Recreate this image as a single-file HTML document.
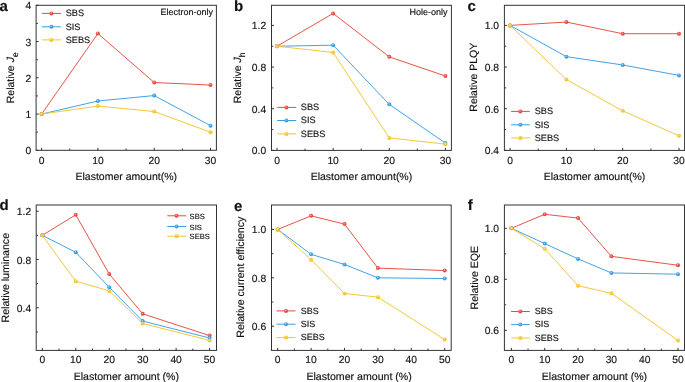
<!DOCTYPE html>
<html><head><meta charset="utf-8"><style>
html,body{margin:0;padding:0;background:#fff;}
body{width:685px;height:382px;overflow:hidden;}
svg{display:block;will-change:transform;text-rendering:geometricPrecision;font-family:"Liberation Sans", sans-serif;}
text{fill:#111;stroke:#111;stroke-width:0.15px;}
</style></head><body>
<svg width="685" height="382" viewBox="0 0 685 382">
<polyline points="41.6,114.05 97.9,33.58 154.2,82.51 210.5,85.05" fill="none" stroke="#e8493f" stroke-width="0.95" stroke-linejoin="round"/>
<polyline points="41.6,114.05 97.9,101 154.2,95.56 210.5,125.65" fill="none" stroke="#3a9ee0" stroke-width="0.95" stroke-linejoin="round"/>
<polyline points="41.6,114.05 97.9,106.08 154.2,111.51 210.5,132.18" fill="none" stroke="#f4c42c" stroke-width="0.95" stroke-linejoin="round"/>
<circle cx="41.6" cy="114.05" r="2.0" fill="#e8493f"/>
<circle cx="41.25" cy="113.6" r="0.75" fill="#fff" fill-opacity="0.6"/>
<circle cx="97.9" cy="33.58" r="2.0" fill="#e8493f"/>
<circle cx="97.55" cy="33.12" r="0.75" fill="#fff" fill-opacity="0.6"/>
<circle cx="154.2" cy="82.51" r="2.0" fill="#e8493f"/>
<circle cx="153.85" cy="82.06" r="0.75" fill="#fff" fill-opacity="0.6"/>
<circle cx="210.5" cy="85.05" r="2.0" fill="#e8493f"/>
<circle cx="210.15" cy="84.6" r="0.75" fill="#fff" fill-opacity="0.6"/>
<circle cx="41.6" cy="114.05" r="2.0" fill="#3a9ee0"/>
<circle cx="41.25" cy="113.6" r="0.75" fill="#fff" fill-opacity="0.6"/>
<circle cx="97.9" cy="101" r="2.0" fill="#3a9ee0"/>
<circle cx="97.55" cy="100.55" r="0.75" fill="#fff" fill-opacity="0.6"/>
<circle cx="154.2" cy="95.56" r="2.0" fill="#3a9ee0"/>
<circle cx="153.85" cy="95.11" r="0.75" fill="#fff" fill-opacity="0.6"/>
<circle cx="210.5" cy="125.65" r="2.0" fill="#3a9ee0"/>
<circle cx="210.15" cy="125.2" r="0.75" fill="#fff" fill-opacity="0.6"/>
<circle cx="41.6" cy="114.05" r="2.0" fill="#f4c42c"/>
<circle cx="41.25" cy="113.6" r="0.75" fill="#fff" fill-opacity="0.6"/>
<circle cx="97.9" cy="106.08" r="2.0" fill="#f4c42c"/>
<circle cx="97.55" cy="105.63" r="0.75" fill="#fff" fill-opacity="0.6"/>
<circle cx="154.2" cy="111.51" r="2.0" fill="#f4c42c"/>
<circle cx="153.85" cy="111.06" r="0.75" fill="#fff" fill-opacity="0.6"/>
<circle cx="210.5" cy="132.18" r="2.0" fill="#f4c42c"/>
<circle cx="210.15" cy="131.73" r="0.75" fill="#fff" fill-opacity="0.6"/>
<rect x="36.1" y="5.3" width="180.3" height="145" fill="none" stroke="#333333" stroke-width="1"/>
<line x1="41.6" y1="150.3" x2="41.6" y2="147.8" stroke="#333333" stroke-width="1"/>
<line x1="97.9" y1="150.3" x2="97.9" y2="147.8" stroke="#333333" stroke-width="1"/>
<line x1="154.2" y1="150.3" x2="154.2" y2="147.8" stroke="#333333" stroke-width="1"/>
<line x1="210.5" y1="150.3" x2="210.5" y2="147.8" stroke="#333333" stroke-width="1"/>
<line x1="69.75" y1="150.3" x2="69.75" y2="148.5" stroke="#333333" stroke-width="1"/>
<line x1="126.05" y1="150.3" x2="126.05" y2="148.5" stroke="#333333" stroke-width="1"/>
<line x1="182.35" y1="150.3" x2="182.35" y2="148.5" stroke="#333333" stroke-width="1"/>
<line x1="36.1" y1="150.3" x2="38.6" y2="150.3" stroke="#333333" stroke-width="1"/>
<line x1="36.1" y1="114.05" x2="38.6" y2="114.05" stroke="#333333" stroke-width="1"/>
<line x1="36.1" y1="77.8" x2="38.6" y2="77.8" stroke="#333333" stroke-width="1"/>
<line x1="36.1" y1="41.55" x2="38.6" y2="41.55" stroke="#333333" stroke-width="1"/>
<line x1="36.1" y1="5.3" x2="38.6" y2="5.3" stroke="#333333" stroke-width="1"/>
<line x1="36.1" y1="132.18" x2="37.9" y2="132.18" stroke="#333333" stroke-width="1"/>
<line x1="36.1" y1="95.93" x2="37.9" y2="95.93" stroke="#333333" stroke-width="1"/>
<line x1="36.1" y1="59.68" x2="37.9" y2="59.68" stroke="#333333" stroke-width="1"/>
<line x1="36.1" y1="23.43" x2="37.9" y2="23.43" stroke="#333333" stroke-width="1"/>
<text x="41.6" y="163.5" text-anchor="middle" font-size="10.3">0</text>
<text x="97.9" y="163.5" text-anchor="middle" font-size="10.3">10</text>
<text x="154.2" y="163.5" text-anchor="middle" font-size="10.3">20</text>
<text x="210.5" y="163.5" text-anchor="middle" font-size="10.3">30</text>
<text x="31.2" y="154.36" text-anchor="end" font-size="10.3">0</text>
<text x="31.2" y="118.11" text-anchor="end" font-size="10.3">1</text>
<text x="31.2" y="81.86" text-anchor="end" font-size="10.3">2</text>
<text x="31.2" y="45.61" text-anchor="end" font-size="10.3">3</text>
<text x="31.2" y="9.36" text-anchor="end" font-size="10.3">4</text>
<text x="126.25" y="180.1" text-anchor="middle" font-size="10.5">Elastomer amount(%)</text>
<text transform="translate(14.1,77.8) rotate(-90)" text-anchor="middle" font-size="10.5">Relative <tspan font-style="italic">J</tspan><tspan font-size="8.5" dy="3.4">e</tspan></text>
<line x1="41.9" y1="13.4" x2="60.9" y2="13.4" stroke="#e8493f" stroke-width="1"/>
<circle cx="51.4" cy="13.4" r="2.0" fill="#e8493f"/>
<circle cx="51.05" cy="12.95" r="0.75" fill="#fff" fill-opacity="0.6"/>
<text x="65.7" y="16.17" font-size="9.2">SBS</text>
<line x1="41.9" y1="26.8" x2="60.9" y2="26.8" stroke="#3a9ee0" stroke-width="1"/>
<circle cx="51.4" cy="26.8" r="2.0" fill="#3a9ee0"/>
<circle cx="51.05" cy="26.35" r="0.75" fill="#fff" fill-opacity="0.6"/>
<text x="65.7" y="29.57" font-size="9.2">SIS</text>
<line x1="41.9" y1="39.9" x2="60.9" y2="39.9" stroke="#f4c42c" stroke-width="1"/>
<circle cx="51.4" cy="39.9" r="2.0" fill="#f4c42c"/>
<circle cx="51.05" cy="39.45" r="0.75" fill="#fff" fill-opacity="0.6"/>
<text x="65.7" y="42.67" font-size="9.2">SEBS</text>
<text x="-0.6" y="10.6" font-size="15" font-weight="bold">a</text>
<text x="213" y="15.2" text-anchor="end" font-size="9">Electron-only</text>
<polyline points="277,46.23 333.13,13.42 389.27,56.86 445.4,76.03" fill="none" stroke="#e8493f" stroke-width="0.95" stroke-linejoin="round"/>
<polyline points="277,46.23 333.13,45.19 389.27,104.36 445.4,143.11" fill="none" stroke="#3a9ee0" stroke-width="0.95" stroke-linejoin="round"/>
<polyline points="277,46.23 333.13,52.48 389.27,137.9 445.4,144.15" fill="none" stroke="#f4c42c" stroke-width="0.95" stroke-linejoin="round"/>
<circle cx="277" cy="46.23" r="2.0" fill="#e8493f"/>
<circle cx="276.65" cy="45.78" r="0.75" fill="#fff" fill-opacity="0.6"/>
<circle cx="333.13" cy="13.42" r="2.0" fill="#e8493f"/>
<circle cx="332.78" cy="12.97" r="0.75" fill="#fff" fill-opacity="0.6"/>
<circle cx="389.27" cy="56.86" r="2.0" fill="#e8493f"/>
<circle cx="388.92" cy="56.41" r="0.75" fill="#fff" fill-opacity="0.6"/>
<circle cx="445.4" cy="76.03" r="2.0" fill="#e8493f"/>
<circle cx="445.05" cy="75.58" r="0.75" fill="#fff" fill-opacity="0.6"/>
<circle cx="277" cy="46.23" r="2.0" fill="#3a9ee0"/>
<circle cx="276.65" cy="45.78" r="0.75" fill="#fff" fill-opacity="0.6"/>
<circle cx="333.13" cy="45.19" r="2.0" fill="#3a9ee0"/>
<circle cx="332.78" cy="44.74" r="0.75" fill="#fff" fill-opacity="0.6"/>
<circle cx="389.27" cy="104.36" r="2.0" fill="#3a9ee0"/>
<circle cx="388.92" cy="103.91" r="0.75" fill="#fff" fill-opacity="0.6"/>
<circle cx="445.4" cy="143.11" r="2.0" fill="#3a9ee0"/>
<circle cx="445.05" cy="142.66" r="0.75" fill="#fff" fill-opacity="0.6"/>
<circle cx="277" cy="46.23" r="2.0" fill="#f4c42c"/>
<circle cx="276.65" cy="45.78" r="0.75" fill="#fff" fill-opacity="0.6"/>
<circle cx="333.13" cy="52.48" r="2.0" fill="#f4c42c"/>
<circle cx="332.78" cy="52.03" r="0.75" fill="#fff" fill-opacity="0.6"/>
<circle cx="389.27" cy="137.9" r="2.0" fill="#f4c42c"/>
<circle cx="388.92" cy="137.45" r="0.75" fill="#fff" fill-opacity="0.6"/>
<circle cx="445.4" cy="144.15" r="2.0" fill="#f4c42c"/>
<circle cx="445.05" cy="143.7" r="0.75" fill="#fff" fill-opacity="0.6"/>
<rect x="271.5" y="5.3" width="179.9" height="145.1" fill="none" stroke="#333333" stroke-width="1"/>
<line x1="277" y1="150.4" x2="277" y2="147.9" stroke="#333333" stroke-width="1"/>
<line x1="333.13" y1="150.4" x2="333.13" y2="147.9" stroke="#333333" stroke-width="1"/>
<line x1="389.27" y1="150.4" x2="389.27" y2="147.9" stroke="#333333" stroke-width="1"/>
<line x1="445.4" y1="150.4" x2="445.4" y2="147.9" stroke="#333333" stroke-width="1"/>
<line x1="305.07" y1="150.4" x2="305.07" y2="148.6" stroke="#333333" stroke-width="1"/>
<line x1="361.2" y1="150.4" x2="361.2" y2="148.6" stroke="#333333" stroke-width="1"/>
<line x1="417.33" y1="150.4" x2="417.33" y2="148.6" stroke="#333333" stroke-width="1"/>
<line x1="271.5" y1="150.4" x2="274" y2="150.4" stroke="#333333" stroke-width="1"/>
<line x1="271.5" y1="108.73" x2="274" y2="108.73" stroke="#333333" stroke-width="1"/>
<line x1="271.5" y1="67.07" x2="274" y2="67.07" stroke="#333333" stroke-width="1"/>
<line x1="271.5" y1="25.4" x2="274" y2="25.4" stroke="#333333" stroke-width="1"/>
<line x1="271.5" y1="129.57" x2="273.3" y2="129.57" stroke="#333333" stroke-width="1"/>
<line x1="271.5" y1="87.9" x2="273.3" y2="87.9" stroke="#333333" stroke-width="1"/>
<line x1="271.5" y1="46.23" x2="273.3" y2="46.23" stroke="#333333" stroke-width="1"/>
<text x="277" y="163.5" text-anchor="middle" font-size="10.3">0</text>
<text x="333.13" y="163.5" text-anchor="middle" font-size="10.3">10</text>
<text x="389.27" y="163.5" text-anchor="middle" font-size="10.3">20</text>
<text x="445.4" y="163.5" text-anchor="middle" font-size="10.3">30</text>
<text x="266.2" y="154.46" text-anchor="end" font-size="10.3">0.0</text>
<text x="266.2" y="112.79" text-anchor="end" font-size="10.3">0.4</text>
<text x="266.2" y="71.12" text-anchor="end" font-size="10.3">0.8</text>
<text x="266.2" y="29.46" text-anchor="end" font-size="10.3">1.2</text>
<text x="361.45" y="180.1" text-anchor="middle" font-size="10.5">Elastomer amount(%)</text>
<text transform="translate(241.3,77.85) rotate(-90)" text-anchor="middle" font-size="10.5">Relative <tspan font-style="italic">J</tspan><tspan font-size="8.5" dy="3.4">h</tspan></text>
<line x1="277.2" y1="107.4" x2="296.2" y2="107.4" stroke="#e8493f" stroke-width="1"/>
<circle cx="286.4" cy="107.4" r="2.0" fill="#e8493f"/>
<circle cx="286.05" cy="106.95" r="0.75" fill="#fff" fill-opacity="0.6"/>
<text x="300.8" y="110.17" font-size="9.2">SBS</text>
<line x1="277.2" y1="120.5" x2="296.2" y2="120.5" stroke="#3a9ee0" stroke-width="1"/>
<circle cx="286.4" cy="120.5" r="2.0" fill="#3a9ee0"/>
<circle cx="286.05" cy="120.05" r="0.75" fill="#fff" fill-opacity="0.6"/>
<text x="300.8" y="123.27" font-size="9.2">SIS</text>
<line x1="277.2" y1="133.9" x2="296.2" y2="133.9" stroke="#f4c42c" stroke-width="1"/>
<circle cx="286.4" cy="133.9" r="2.0" fill="#f4c42c"/>
<circle cx="286.05" cy="133.45" r="0.75" fill="#fff" fill-opacity="0.6"/>
<text x="300.8" y="136.67" font-size="9.2">SEBS</text>
<text x="234" y="10.8" font-size="15" font-weight="bold">b</text>
<text x="447.6" y="14.7" text-anchor="end" font-size="9">Hole-only</text>
<polyline points="510.1,25.4 566.4,22.07 622.7,33.73 679,33.73" fill="none" stroke="#e8493f" stroke-width="0.95" stroke-linejoin="round"/>
<polyline points="510.1,25.4 566.4,56.65 622.7,64.98 679,75.4" fill="none" stroke="#3a9ee0" stroke-width="0.95" stroke-linejoin="round"/>
<polyline points="510.1,25.4 566.4,79.57 622.7,110.82 679,135.82" fill="none" stroke="#f4c42c" stroke-width="0.95" stroke-linejoin="round"/>
<circle cx="510.1" cy="25.4" r="2.0" fill="#e8493f"/>
<circle cx="509.75" cy="24.95" r="0.75" fill="#fff" fill-opacity="0.6"/>
<circle cx="566.4" cy="22.07" r="2.0" fill="#e8493f"/>
<circle cx="566.05" cy="21.62" r="0.75" fill="#fff" fill-opacity="0.6"/>
<circle cx="622.7" cy="33.73" r="2.0" fill="#e8493f"/>
<circle cx="622.35" cy="33.28" r="0.75" fill="#fff" fill-opacity="0.6"/>
<circle cx="679" cy="33.73" r="2.0" fill="#e8493f"/>
<circle cx="678.65" cy="33.28" r="0.75" fill="#fff" fill-opacity="0.6"/>
<circle cx="510.1" cy="25.4" r="2.0" fill="#3a9ee0"/>
<circle cx="509.75" cy="24.95" r="0.75" fill="#fff" fill-opacity="0.6"/>
<circle cx="566.4" cy="56.65" r="2.0" fill="#3a9ee0"/>
<circle cx="566.05" cy="56.2" r="0.75" fill="#fff" fill-opacity="0.6"/>
<circle cx="622.7" cy="64.98" r="2.0" fill="#3a9ee0"/>
<circle cx="622.35" cy="64.53" r="0.75" fill="#fff" fill-opacity="0.6"/>
<circle cx="679" cy="75.4" r="2.0" fill="#3a9ee0"/>
<circle cx="678.65" cy="74.95" r="0.75" fill="#fff" fill-opacity="0.6"/>
<circle cx="510.1" cy="25.4" r="2.0" fill="#f4c42c"/>
<circle cx="509.75" cy="24.95" r="0.75" fill="#fff" fill-opacity="0.6"/>
<circle cx="566.4" cy="79.57" r="2.0" fill="#f4c42c"/>
<circle cx="566.05" cy="79.12" r="0.75" fill="#fff" fill-opacity="0.6"/>
<circle cx="622.7" cy="110.82" r="2.0" fill="#f4c42c"/>
<circle cx="622.35" cy="110.37" r="0.75" fill="#fff" fill-opacity="0.6"/>
<circle cx="679" cy="135.82" r="2.0" fill="#f4c42c"/>
<circle cx="678.65" cy="135.37" r="0.75" fill="#fff" fill-opacity="0.6"/>
<rect x="504.4" y="5.3" width="180.2" height="145.1" fill="none" stroke="#333333" stroke-width="1"/>
<line x1="510.1" y1="150.4" x2="510.1" y2="147.9" stroke="#333333" stroke-width="1"/>
<line x1="566.4" y1="150.4" x2="566.4" y2="147.9" stroke="#333333" stroke-width="1"/>
<line x1="622.7" y1="150.4" x2="622.7" y2="147.9" stroke="#333333" stroke-width="1"/>
<line x1="679" y1="150.4" x2="679" y2="147.9" stroke="#333333" stroke-width="1"/>
<line x1="538.25" y1="150.4" x2="538.25" y2="148.6" stroke="#333333" stroke-width="1"/>
<line x1="594.55" y1="150.4" x2="594.55" y2="148.6" stroke="#333333" stroke-width="1"/>
<line x1="650.85" y1="150.4" x2="650.85" y2="148.6" stroke="#333333" stroke-width="1"/>
<line x1="504.4" y1="150.4" x2="506.9" y2="150.4" stroke="#333333" stroke-width="1"/>
<line x1="504.4" y1="108.73" x2="506.9" y2="108.73" stroke="#333333" stroke-width="1"/>
<line x1="504.4" y1="67.07" x2="506.9" y2="67.07" stroke="#333333" stroke-width="1"/>
<line x1="504.4" y1="25.4" x2="506.9" y2="25.4" stroke="#333333" stroke-width="1"/>
<line x1="504.4" y1="129.57" x2="506.2" y2="129.57" stroke="#333333" stroke-width="1"/>
<line x1="504.4" y1="87.9" x2="506.2" y2="87.9" stroke="#333333" stroke-width="1"/>
<line x1="504.4" y1="46.23" x2="506.2" y2="46.23" stroke="#333333" stroke-width="1"/>
<text x="510.1" y="163.5" text-anchor="middle" font-size="10.3">0</text>
<text x="566.4" y="163.5" text-anchor="middle" font-size="10.3">10</text>
<text x="622.7" y="163.5" text-anchor="middle" font-size="10.3">20</text>
<text x="679" y="163.5" text-anchor="middle" font-size="10.3">30</text>
<text x="499" y="154.46" text-anchor="end" font-size="10.3">0.4</text>
<text x="499" y="112.79" text-anchor="end" font-size="10.3">0.6</text>
<text x="499" y="71.12" text-anchor="end" font-size="10.3">0.8</text>
<text x="499" y="29.46" text-anchor="end" font-size="10.3">1.0</text>
<text x="594.5" y="180.1" text-anchor="middle" font-size="10.5">Elastomer amount(%)</text>
<text transform="translate(477,77.2) rotate(-90)" text-anchor="middle" font-size="10.5">Relative PLQY</text>
<line x1="511.1" y1="111.4" x2="529.8" y2="111.4" stroke="#e8493f" stroke-width="1"/>
<circle cx="520.3" cy="111.4" r="2.0" fill="#e8493f"/>
<circle cx="519.95" cy="110.95" r="0.75" fill="#fff" fill-opacity="0.6"/>
<text x="534.7" y="114.17" font-size="9.2">SBS</text>
<line x1="511.1" y1="124.8" x2="529.8" y2="124.8" stroke="#3a9ee0" stroke-width="1"/>
<circle cx="520.3" cy="124.8" r="2.0" fill="#3a9ee0"/>
<circle cx="519.95" cy="124.35" r="0.75" fill="#fff" fill-opacity="0.6"/>
<text x="534.7" y="127.57" font-size="9.2">SIS</text>
<line x1="511.1" y1="137.9" x2="529.8" y2="137.9" stroke="#f4c42c" stroke-width="1"/>
<circle cx="520.3" cy="137.9" r="2.0" fill="#f4c42c"/>
<circle cx="519.95" cy="137.45" r="0.75" fill="#fff" fill-opacity="0.6"/>
<text x="534.7" y="140.67" font-size="9.2">SEBS</text>
<text x="467.6" y="10.8" font-size="15" font-weight="bold">c</text>
<polyline points="42.3,235.35 75.76,214.82 109.22,273.99 142.68,313.84 209.6,335.57" fill="none" stroke="#e8493f" stroke-width="0.95" stroke-linejoin="round"/>
<polyline points="42.3,235.35 75.76,252.25 109.22,287.27 142.68,321.08 209.6,337.99" fill="none" stroke="#3a9ee0" stroke-width="0.95" stroke-linejoin="round"/>
<polyline points="42.3,235.35 75.76,281.24 109.22,290.89 142.68,323.5 209.6,340.4" fill="none" stroke="#f4c42c" stroke-width="0.95" stroke-linejoin="round"/>
<circle cx="42.3" cy="235.35" r="2.0" fill="#e8493f"/>
<circle cx="41.95" cy="234.9" r="0.75" fill="#fff" fill-opacity="0.6"/>
<circle cx="75.76" cy="214.82" r="2.0" fill="#e8493f"/>
<circle cx="75.41" cy="214.37" r="0.75" fill="#fff" fill-opacity="0.6"/>
<circle cx="109.22" cy="273.99" r="2.0" fill="#e8493f"/>
<circle cx="108.87" cy="273.54" r="0.75" fill="#fff" fill-opacity="0.6"/>
<circle cx="142.68" cy="313.84" r="2.0" fill="#e8493f"/>
<circle cx="142.33" cy="313.39" r="0.75" fill="#fff" fill-opacity="0.6"/>
<circle cx="209.6" cy="335.57" r="2.0" fill="#e8493f"/>
<circle cx="209.25" cy="335.12" r="0.75" fill="#fff" fill-opacity="0.6"/>
<circle cx="42.3" cy="235.35" r="2.0" fill="#3a9ee0"/>
<circle cx="41.95" cy="234.9" r="0.75" fill="#fff" fill-opacity="0.6"/>
<circle cx="75.76" cy="252.25" r="2.0" fill="#3a9ee0"/>
<circle cx="75.41" cy="251.81" r="0.75" fill="#fff" fill-opacity="0.6"/>
<circle cx="109.22" cy="287.27" r="2.0" fill="#3a9ee0"/>
<circle cx="108.87" cy="286.82" r="0.75" fill="#fff" fill-opacity="0.6"/>
<circle cx="142.68" cy="321.08" r="2.0" fill="#3a9ee0"/>
<circle cx="142.33" cy="320.63" r="0.75" fill="#fff" fill-opacity="0.6"/>
<circle cx="209.6" cy="337.99" r="2.0" fill="#3a9ee0"/>
<circle cx="209.25" cy="337.54" r="0.75" fill="#fff" fill-opacity="0.6"/>
<circle cx="42.3" cy="235.35" r="2.0" fill="#f4c42c"/>
<circle cx="41.95" cy="234.9" r="0.75" fill="#fff" fill-opacity="0.6"/>
<circle cx="75.76" cy="281.24" r="2.0" fill="#f4c42c"/>
<circle cx="75.41" cy="280.79" r="0.75" fill="#fff" fill-opacity="0.6"/>
<circle cx="109.22" cy="290.89" r="2.0" fill="#f4c42c"/>
<circle cx="108.87" cy="290.44" r="0.75" fill="#fff" fill-opacity="0.6"/>
<circle cx="142.68" cy="323.5" r="2.0" fill="#f4c42c"/>
<circle cx="142.33" cy="323.05" r="0.75" fill="#fff" fill-opacity="0.6"/>
<circle cx="209.6" cy="340.4" r="2.0" fill="#f4c42c"/>
<circle cx="209.25" cy="339.95" r="0.75" fill="#fff" fill-opacity="0.6"/>
<rect x="36.2" y="205" width="180.3" height="145.4" fill="none" stroke="#333333" stroke-width="1"/>
<line x1="42.3" y1="350.4" x2="42.3" y2="347.9" stroke="#333333" stroke-width="1"/>
<line x1="75.76" y1="350.4" x2="75.76" y2="347.9" stroke="#333333" stroke-width="1"/>
<line x1="109.22" y1="350.4" x2="109.22" y2="347.9" stroke="#333333" stroke-width="1"/>
<line x1="142.68" y1="350.4" x2="142.68" y2="347.9" stroke="#333333" stroke-width="1"/>
<line x1="176.14" y1="350.4" x2="176.14" y2="347.9" stroke="#333333" stroke-width="1"/>
<line x1="209.6" y1="350.4" x2="209.6" y2="347.9" stroke="#333333" stroke-width="1"/>
<line x1="59.03" y1="350.4" x2="59.03" y2="348.6" stroke="#333333" stroke-width="1"/>
<line x1="92.49" y1="350.4" x2="92.49" y2="348.6" stroke="#333333" stroke-width="1"/>
<line x1="125.95" y1="350.4" x2="125.95" y2="348.6" stroke="#333333" stroke-width="1"/>
<line x1="159.41" y1="350.4" x2="159.41" y2="348.6" stroke="#333333" stroke-width="1"/>
<line x1="192.87" y1="350.4" x2="192.87" y2="348.6" stroke="#333333" stroke-width="1"/>
<line x1="36.2" y1="307.8" x2="38.7" y2="307.8" stroke="#333333" stroke-width="1"/>
<line x1="36.2" y1="259.5" x2="38.7" y2="259.5" stroke="#333333" stroke-width="1"/>
<line x1="36.2" y1="211.2" x2="38.7" y2="211.2" stroke="#333333" stroke-width="1"/>
<line x1="36.2" y1="331.95" x2="38" y2="331.95" stroke="#333333" stroke-width="1"/>
<line x1="36.2" y1="283.65" x2="38" y2="283.65" stroke="#333333" stroke-width="1"/>
<line x1="36.2" y1="235.35" x2="38" y2="235.35" stroke="#333333" stroke-width="1"/>
<text x="42.3" y="363.3" text-anchor="middle" font-size="10.3">0</text>
<text x="75.76" y="363.3" text-anchor="middle" font-size="10.3">10</text>
<text x="109.22" y="363.3" text-anchor="middle" font-size="10.3">20</text>
<text x="142.68" y="363.3" text-anchor="middle" font-size="10.3">30</text>
<text x="176.14" y="363.3" text-anchor="middle" font-size="10.3">40</text>
<text x="209.6" y="363.3" text-anchor="middle" font-size="10.3">50</text>
<text x="31.2" y="311.86" text-anchor="end" font-size="10.3">0.4</text>
<text x="31.2" y="263.56" text-anchor="end" font-size="10.3">0.8</text>
<text x="31.2" y="215.26" text-anchor="end" font-size="10.3">1.2</text>
<text x="126.35" y="379.9" text-anchor="middle" font-size="10.6">Elastomer amount (%)</text>
<text transform="translate(8.9,277.7) rotate(-90)" text-anchor="middle" font-size="10.6">Relative luminance</text>
<line x1="167.3" y1="215.8" x2="186.2" y2="215.8" stroke="#e8493f" stroke-width="1"/>
<circle cx="176.5" cy="215.8" r="2.0" fill="#e8493f"/>
<circle cx="176.15" cy="215.35" r="0.75" fill="#fff" fill-opacity="0.6"/>
<text x="189.6" y="218.9" font-size="7.6">SBS</text>
<line x1="167.3" y1="226.5" x2="186.2" y2="226.5" stroke="#3a9ee0" stroke-width="1"/>
<circle cx="176.5" cy="226.5" r="2.0" fill="#3a9ee0"/>
<circle cx="176.15" cy="226.05" r="0.75" fill="#fff" fill-opacity="0.6"/>
<text x="189.6" y="229.6" font-size="7.6">SIS</text>
<line x1="167.3" y1="236.2" x2="186.2" y2="236.2" stroke="#f4c42c" stroke-width="1"/>
<circle cx="176.5" cy="236.2" r="2.0" fill="#f4c42c"/>
<circle cx="176.15" cy="235.75" r="0.75" fill="#fff" fill-opacity="0.6"/>
<text x="189.6" y="239.3" font-size="7.6">SEBS</text>
<text x="-0.6" y="210" font-size="15" font-weight="bold">d</text>
<polyline points="277.7,229.4 311.1,215.85 344.5,224.08 377.9,268.12 444.7,270.54" fill="none" stroke="#e8493f" stroke-width="0.95" stroke-linejoin="round"/>
<polyline points="277.7,229.4 311.1,254.33 344.5,264.49 377.9,277.8 444.7,278.53" fill="none" stroke="#3a9ee0" stroke-width="0.95" stroke-linejoin="round"/>
<polyline points="277.7,229.4 311.1,259.65 344.5,293.53 377.9,297.16 444.7,339.51" fill="none" stroke="#f4c42c" stroke-width="0.95" stroke-linejoin="round"/>
<circle cx="277.7" cy="229.4" r="2.0" fill="#e8493f"/>
<circle cx="277.35" cy="228.95" r="0.75" fill="#fff" fill-opacity="0.6"/>
<circle cx="311.1" cy="215.85" r="2.0" fill="#e8493f"/>
<circle cx="310.75" cy="215.4" r="0.75" fill="#fff" fill-opacity="0.6"/>
<circle cx="344.5" cy="224.08" r="2.0" fill="#e8493f"/>
<circle cx="344.15" cy="223.63" r="0.75" fill="#fff" fill-opacity="0.6"/>
<circle cx="377.9" cy="268.12" r="2.0" fill="#e8493f"/>
<circle cx="377.55" cy="267.67" r="0.75" fill="#fff" fill-opacity="0.6"/>
<circle cx="444.7" cy="270.54" r="2.0" fill="#e8493f"/>
<circle cx="444.35" cy="270.09" r="0.75" fill="#fff" fill-opacity="0.6"/>
<circle cx="277.7" cy="229.4" r="2.0" fill="#3a9ee0"/>
<circle cx="277.35" cy="228.95" r="0.75" fill="#fff" fill-opacity="0.6"/>
<circle cx="311.1" cy="254.33" r="2.0" fill="#3a9ee0"/>
<circle cx="310.75" cy="253.88" r="0.75" fill="#fff" fill-opacity="0.6"/>
<circle cx="344.5" cy="264.49" r="2.0" fill="#3a9ee0"/>
<circle cx="344.15" cy="264.04" r="0.75" fill="#fff" fill-opacity="0.6"/>
<circle cx="377.9" cy="277.8" r="2.0" fill="#3a9ee0"/>
<circle cx="377.55" cy="277.35" r="0.75" fill="#fff" fill-opacity="0.6"/>
<circle cx="444.7" cy="278.53" r="2.0" fill="#3a9ee0"/>
<circle cx="444.35" cy="278.08" r="0.75" fill="#fff" fill-opacity="0.6"/>
<circle cx="277.7" cy="229.4" r="2.0" fill="#f4c42c"/>
<circle cx="277.35" cy="228.95" r="0.75" fill="#fff" fill-opacity="0.6"/>
<circle cx="311.1" cy="259.65" r="2.0" fill="#f4c42c"/>
<circle cx="310.75" cy="259.2" r="0.75" fill="#fff" fill-opacity="0.6"/>
<circle cx="344.5" cy="293.53" r="2.0" fill="#f4c42c"/>
<circle cx="344.15" cy="293.08" r="0.75" fill="#fff" fill-opacity="0.6"/>
<circle cx="377.9" cy="297.16" r="2.0" fill="#f4c42c"/>
<circle cx="377.55" cy="296.71" r="0.75" fill="#fff" fill-opacity="0.6"/>
<circle cx="444.7" cy="339.51" r="2.0" fill="#f4c42c"/>
<circle cx="444.35" cy="339.06" r="0.75" fill="#fff" fill-opacity="0.6"/>
<rect x="271.5" y="205" width="179.7" height="145.4" fill="none" stroke="#333333" stroke-width="1"/>
<line x1="277.7" y1="350.4" x2="277.7" y2="347.9" stroke="#333333" stroke-width="1"/>
<line x1="311.1" y1="350.4" x2="311.1" y2="347.9" stroke="#333333" stroke-width="1"/>
<line x1="344.5" y1="350.4" x2="344.5" y2="347.9" stroke="#333333" stroke-width="1"/>
<line x1="377.9" y1="350.4" x2="377.9" y2="347.9" stroke="#333333" stroke-width="1"/>
<line x1="411.3" y1="350.4" x2="411.3" y2="347.9" stroke="#333333" stroke-width="1"/>
<line x1="444.7" y1="350.4" x2="444.7" y2="347.9" stroke="#333333" stroke-width="1"/>
<line x1="294.4" y1="350.4" x2="294.4" y2="348.6" stroke="#333333" stroke-width="1"/>
<line x1="327.8" y1="350.4" x2="327.8" y2="348.6" stroke="#333333" stroke-width="1"/>
<line x1="361.2" y1="350.4" x2="361.2" y2="348.6" stroke="#333333" stroke-width="1"/>
<line x1="394.6" y1="350.4" x2="394.6" y2="348.6" stroke="#333333" stroke-width="1"/>
<line x1="428" y1="350.4" x2="428" y2="348.6" stroke="#333333" stroke-width="1"/>
<line x1="271.5" y1="326.2" x2="274" y2="326.2" stroke="#333333" stroke-width="1"/>
<line x1="271.5" y1="277.8" x2="274" y2="277.8" stroke="#333333" stroke-width="1"/>
<line x1="271.5" y1="229.4" x2="274" y2="229.4" stroke="#333333" stroke-width="1"/>
<line x1="271.5" y1="302" x2="273.3" y2="302" stroke="#333333" stroke-width="1"/>
<line x1="271.5" y1="253.6" x2="273.3" y2="253.6" stroke="#333333" stroke-width="1"/>
<text x="277.7" y="363.3" text-anchor="middle" font-size="10.3">0</text>
<text x="311.1" y="363.3" text-anchor="middle" font-size="10.3">10</text>
<text x="344.5" y="363.3" text-anchor="middle" font-size="10.3">20</text>
<text x="377.9" y="363.3" text-anchor="middle" font-size="10.3">30</text>
<text x="411.3" y="363.3" text-anchor="middle" font-size="10.3">40</text>
<text x="444.7" y="363.3" text-anchor="middle" font-size="10.3">50</text>
<text x="266.2" y="330.26" text-anchor="end" font-size="10.3">0.6</text>
<text x="266.2" y="281.86" text-anchor="end" font-size="10.3">0.8</text>
<text x="266.2" y="233.46" text-anchor="end" font-size="10.3">1.0</text>
<text x="359.1" y="379.9" text-anchor="middle" font-size="10.6">Elastomer amount (%)</text>
<text transform="translate(243.5,277.2) rotate(-90)" text-anchor="middle" font-size="10.6">Relative current efficiency</text>
<line x1="276.5" y1="310.9" x2="295.5" y2="310.9" stroke="#e8493f" stroke-width="1"/>
<circle cx="286" cy="310.9" r="2.0" fill="#e8493f"/>
<circle cx="285.65" cy="310.45" r="0.75" fill="#fff" fill-opacity="0.6"/>
<text x="300.8" y="313.59" font-size="9">SBS</text>
<line x1="276.5" y1="324.2" x2="295.5" y2="324.2" stroke="#3a9ee0" stroke-width="1"/>
<circle cx="286" cy="324.2" r="2.0" fill="#3a9ee0"/>
<circle cx="285.65" cy="323.75" r="0.75" fill="#fff" fill-opacity="0.6"/>
<text x="300.8" y="326.89" font-size="9">SIS</text>
<line x1="276.5" y1="337.6" x2="295.5" y2="337.6" stroke="#f4c42c" stroke-width="1"/>
<circle cx="286" cy="337.6" r="2.0" fill="#f4c42c"/>
<circle cx="285.65" cy="337.15" r="0.75" fill="#fff" fill-opacity="0.6"/>
<text x="300.8" y="340.3" font-size="9">SEBS</text>
<text x="234" y="210.6" font-size="15" font-weight="bold">e</text>
<polyline points="511.4,228.3 544.72,214.28 578.04,218.1 611.36,256.35 678,265.27" fill="none" stroke="#e8493f" stroke-width="0.95" stroke-linejoin="round"/>
<polyline points="511.4,228.3 544.72,243.6 578.04,258.9 611.36,272.93 678,274.2" fill="none" stroke="#3a9ee0" stroke-width="0.95" stroke-linejoin="round"/>
<polyline points="511.4,228.3 544.72,248.7 578.04,285.68 611.36,293.32 678,340.5" fill="none" stroke="#f4c42c" stroke-width="0.95" stroke-linejoin="round"/>
<circle cx="511.4" cy="228.3" r="2.0" fill="#e8493f"/>
<circle cx="511.05" cy="227.85" r="0.75" fill="#fff" fill-opacity="0.6"/>
<circle cx="544.72" cy="214.28" r="2.0" fill="#e8493f"/>
<circle cx="544.37" cy="213.83" r="0.75" fill="#fff" fill-opacity="0.6"/>
<circle cx="578.04" cy="218.1" r="2.0" fill="#e8493f"/>
<circle cx="577.69" cy="217.65" r="0.75" fill="#fff" fill-opacity="0.6"/>
<circle cx="611.36" cy="256.35" r="2.0" fill="#e8493f"/>
<circle cx="611.01" cy="255.9" r="0.75" fill="#fff" fill-opacity="0.6"/>
<circle cx="678" cy="265.27" r="2.0" fill="#e8493f"/>
<circle cx="677.65" cy="264.82" r="0.75" fill="#fff" fill-opacity="0.6"/>
<circle cx="511.4" cy="228.3" r="2.0" fill="#3a9ee0"/>
<circle cx="511.05" cy="227.85" r="0.75" fill="#fff" fill-opacity="0.6"/>
<circle cx="544.72" cy="243.6" r="2.0" fill="#3a9ee0"/>
<circle cx="544.37" cy="243.15" r="0.75" fill="#fff" fill-opacity="0.6"/>
<circle cx="578.04" cy="258.9" r="2.0" fill="#3a9ee0"/>
<circle cx="577.69" cy="258.45" r="0.75" fill="#fff" fill-opacity="0.6"/>
<circle cx="611.36" cy="272.93" r="2.0" fill="#3a9ee0"/>
<circle cx="611.01" cy="272.48" r="0.75" fill="#fff" fill-opacity="0.6"/>
<circle cx="678" cy="274.2" r="2.0" fill="#3a9ee0"/>
<circle cx="677.65" cy="273.75" r="0.75" fill="#fff" fill-opacity="0.6"/>
<circle cx="511.4" cy="228.3" r="2.0" fill="#f4c42c"/>
<circle cx="511.05" cy="227.85" r="0.75" fill="#fff" fill-opacity="0.6"/>
<circle cx="544.72" cy="248.7" r="2.0" fill="#f4c42c"/>
<circle cx="544.37" cy="248.25" r="0.75" fill="#fff" fill-opacity="0.6"/>
<circle cx="578.04" cy="285.68" r="2.0" fill="#f4c42c"/>
<circle cx="577.69" cy="285.23" r="0.75" fill="#fff" fill-opacity="0.6"/>
<circle cx="611.36" cy="293.32" r="2.0" fill="#f4c42c"/>
<circle cx="611.01" cy="292.88" r="0.75" fill="#fff" fill-opacity="0.6"/>
<circle cx="678" cy="340.5" r="2.0" fill="#f4c42c"/>
<circle cx="677.65" cy="340.05" r="0.75" fill="#fff" fill-opacity="0.6"/>
<rect x="504.4" y="205" width="180.1" height="145.4" fill="none" stroke="#333333" stroke-width="1"/>
<line x1="511.4" y1="350.4" x2="511.4" y2="347.9" stroke="#333333" stroke-width="1"/>
<line x1="544.72" y1="350.4" x2="544.72" y2="347.9" stroke="#333333" stroke-width="1"/>
<line x1="578.04" y1="350.4" x2="578.04" y2="347.9" stroke="#333333" stroke-width="1"/>
<line x1="611.36" y1="350.4" x2="611.36" y2="347.9" stroke="#333333" stroke-width="1"/>
<line x1="644.68" y1="350.4" x2="644.68" y2="347.9" stroke="#333333" stroke-width="1"/>
<line x1="678" y1="350.4" x2="678" y2="347.9" stroke="#333333" stroke-width="1"/>
<line x1="528.06" y1="350.4" x2="528.06" y2="348.6" stroke="#333333" stroke-width="1"/>
<line x1="561.38" y1="350.4" x2="561.38" y2="348.6" stroke="#333333" stroke-width="1"/>
<line x1="594.7" y1="350.4" x2="594.7" y2="348.6" stroke="#333333" stroke-width="1"/>
<line x1="628.02" y1="350.4" x2="628.02" y2="348.6" stroke="#333333" stroke-width="1"/>
<line x1="661.34" y1="350.4" x2="661.34" y2="348.6" stroke="#333333" stroke-width="1"/>
<line x1="504.4" y1="330.3" x2="506.9" y2="330.3" stroke="#333333" stroke-width="1"/>
<line x1="504.4" y1="279.3" x2="506.9" y2="279.3" stroke="#333333" stroke-width="1"/>
<line x1="504.4" y1="228.3" x2="506.9" y2="228.3" stroke="#333333" stroke-width="1"/>
<line x1="504.4" y1="304.8" x2="506.2" y2="304.8" stroke="#333333" stroke-width="1"/>
<line x1="504.4" y1="253.8" x2="506.2" y2="253.8" stroke="#333333" stroke-width="1"/>
<text x="511.4" y="363.3" text-anchor="middle" font-size="10.3">0</text>
<text x="544.72" y="363.3" text-anchor="middle" font-size="10.3">10</text>
<text x="578.04" y="363.3" text-anchor="middle" font-size="10.3">20</text>
<text x="611.36" y="363.3" text-anchor="middle" font-size="10.3">30</text>
<text x="644.68" y="363.3" text-anchor="middle" font-size="10.3">40</text>
<text x="678" y="363.3" text-anchor="middle" font-size="10.3">50</text>
<text x="499" y="334.36" text-anchor="end" font-size="10.3">0.6</text>
<text x="499" y="283.36" text-anchor="end" font-size="10.3">0.8</text>
<text x="499" y="232.36" text-anchor="end" font-size="10.3">1.0</text>
<text x="594.45" y="379.9" text-anchor="middle" font-size="10.6">Elastomer amount (%)</text>
<text transform="translate(478.3,277.7) rotate(-90)" text-anchor="middle" font-size="10.6">Relative EQE</text>
<line x1="511.1" y1="311.5" x2="529.8" y2="311.5" stroke="#e8493f" stroke-width="1"/>
<circle cx="520.3" cy="311.5" r="2.0" fill="#e8493f"/>
<circle cx="519.95" cy="311.05" r="0.75" fill="#fff" fill-opacity="0.6"/>
<text x="534.7" y="314.19" font-size="9">SBS</text>
<line x1="511.1" y1="324.6" x2="529.8" y2="324.6" stroke="#3a9ee0" stroke-width="1"/>
<circle cx="520.3" cy="324.6" r="2.0" fill="#3a9ee0"/>
<circle cx="519.95" cy="324.15" r="0.75" fill="#fff" fill-opacity="0.6"/>
<text x="534.7" y="327.3" font-size="9">SIS</text>
<line x1="511.1" y1="338" x2="529.8" y2="338" stroke="#f4c42c" stroke-width="1"/>
<circle cx="520.3" cy="338" r="2.0" fill="#f4c42c"/>
<circle cx="519.95" cy="337.55" r="0.75" fill="#fff" fill-opacity="0.6"/>
<text x="534.7" y="340.69" font-size="9">SEBS</text>
<text x="467.8" y="210" font-size="15" font-weight="bold">f</text>
</svg></body></html>
